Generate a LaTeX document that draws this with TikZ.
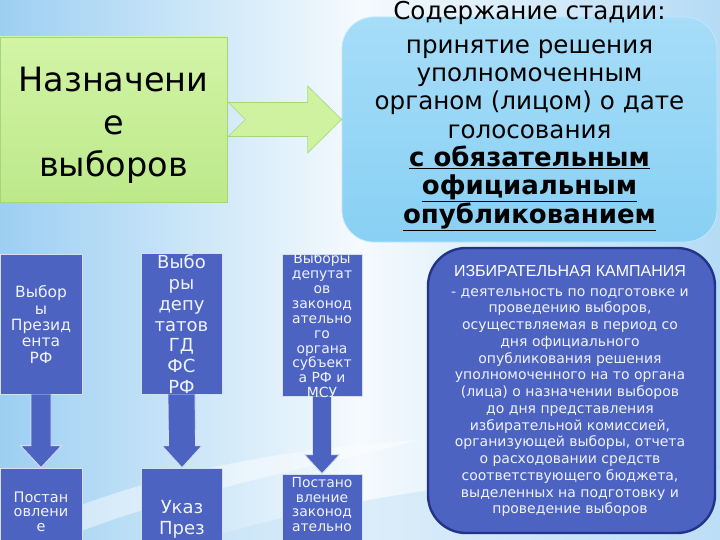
\documentclass[tikz,border=0pt]{standalone}
\usepackage{fontspec}
\setmainfont{DejaVu Sans}
\newfontfamily\capsfont{Liberation Sans}
\usetikzlibrary{calc,positioning}
\definecolor{bgblue}{HTML}{9CCFF2}
\definecolor{grtop}{HTML}{D2F4A6}
\definecolor{grbot}{HTML}{BDE98A}
\definecolor{grline}{HTML}{A6D67C}
\definecolor{skytop}{HTML}{A6DDF8}
\definecolor{skybot}{HTML}{88D0F4}
\definecolor{skyline}{HTML}{C2E7FA}
\definecolor{dkblue}{HTML}{4C63C2}
\definecolor{navy}{HTML}{24338A}
\definecolor{paleline}{HTML}{D5DEF3}
\definecolor{lighttxt}{HTML}{F0F3FB}

\begin{document}
\begin{tikzpicture}[x=1pt,y=-1pt,
		greenbox/.style={top color=grtop, bottom color=grbot, draw=grline, line width=0.6pt, align=center, inner sep=0pt},
		skybox/.style={top color=skytop, bottom color=skybot, draw=skyline, line width=0.8pt, rounded corners=32pt, inner sep=0pt},
		dbox/.style={fill=dkblue, draw=paleline, line width=0.8pt, minimum width=81pt, minimum height=140pt, inner sep=0pt},
		wtext/.style={text=lighttxt, align=center, inner sep=0pt, anchor=north},
		blockarr/.style={fill=dkblue, draw=paleline, line width=0.8pt},
		greenarr/.style={fill=grtop!80!grbot, draw=grline, line width=0.6pt},
	]
	\useasboundingbox (0,0) rectangle (720,540);
	\clip (0,0) rectangle (720,540);
	% background
	\shade[left color=bgblue, right color=bgblue!75!white, middle color=white!90!bgblue] (0,0) rectangle (720,540);
	\fill[white, opacity=0.45] (0,540) .. controls (120,480) and (260,450) .. (420,440) .. controls (300,470) and (150,500) .. (60,540) -- cycle;
	\fill[bgblue!60!white, opacity=0.5] (200,540) .. controls (400,480) and (600,470) .. (720,470) -- (720,540) -- cycle;
	
	% top row
	\node[greenbox, minimum width=227pt, minimum height=165pt] (naz) at (113.5,119.5) {};
	\node[anchor=north, align=center, inner sep=0pt, font=\fontsize{33.5}{42.5}\selectfont] (naztxt) at ($(naz.north)+(0,30.6)$) {Назначени\\е\\выборов};
	\node[skybox, minimum width=375pt, minimum height=225pt] (sod) at (529.5,129.5) {};
	\node[anchor=north, align=center, inner sep=0pt, font=\fontsize{24.6}{28.3}\selectfont] (sodtxt) at ($(sod.north)+(0,-15.5)$)
		{Содержание стадии:\\[5.5pt] принятие решения\\уполномоченным\\органом (лицом) о дате\\голосования\\
		\fontsize{26}{28.3}\selectfont\textbf{\underline{с обязательным}}\\\fontsize{26}{28.3}\selectfont\textbf{\underline{официальным}}\\
		\fontsize{26}{28.3}\selectfont\textbf{\underline{опубликованием}}};
	\draw[greenarr] ($(naz.east)+(1,-17)$) -- ($(sod.west |- naz.east)+(-34,-17)$) -- ++(0,-16.5)
		-- (sod.west |- naz.east) -- ++(-34,33.5) -- ++(0,-16.5) -- ($(naz.east)+(1,17)$)
		-- ($(naz.east)+(18,0)$) -- cycle;
	
	% kinds of elections
	\node[dbox, minimum width=82pt] (pres) at (41,324) {};
	\node[dbox, minimum height=141pt] (gd) at (181.5,323.5) {};
	\node[dbox, minimum width=80pt, minimum height=142pt] (sub) at (322,325) {};
	\node[dbox, minimum width=82pt] (prespost) at (41,538) {};
	\node[dbox] (gdukaz) at (182,538) {};
	\node[dbox, minimum width=80pt] (subpost) at (322,544) {};
	
	\foreach \a/\b/\w/\h/\l in {pres/prespost/10/20.5/22, gd/gdukaz/13.5/20/22, sub/subpost/9.5/17.5/19}
	{
		\draw[blockarr] ($(\a.south)+(-\w,0)$) -- ($(\b.north)+(-\w,-\l)$) -- ++({\w-\h},0) -- (\b.north)
			-- ($(\b.north)+(\h,-\l)$) -- ++({\w-\h},0) -- ($(\a.south)+(\w,0)$);
	}
	
	\node[wtext, font=\fontsize{15.5}{16.3}\selectfont] (prestxt) at ($(pres.north)+(0,32)$) {Выбор\\ы\\Презид\\ента\\РФ};
	\node[wtext, font=\fontsize{18}{20.8}\selectfont] (gdtxt) at ($(gd.north)+(0,2)$) {Выбо\\ры\\депу\\татов\\ГД\\ФС\\РФ};
	\node[wtext, font=\fontsize{13.9}{14.9}\selectfont] (subtxt) at ($(sub.north)+(0,-1)$)
		{Выборы\\депутат\\ов\\законод\\ательно\\го\\органа\\субъект\\а РФ и\\МСУ};
	\node[wtext, font=\fontsize{14.5}{14.5}\selectfont] (prespsttxt) at ($(prespost.north)+(0,24)$) {Постан\\овлени\\е};
	\node[wtext, font=\fontsize{18}{21}\selectfont] (ukaztxt) at ($(gdukaz.north)+(0,33)$) {Указ\\През};
	\node[wtext, font=\fontsize{13.9}{14.5}\selectfont] (subpsttxt) at ($(subpost.north)+(0,4)$) {Постано\\вление\\законод\\ательно};
	
	% campaign
	\node[fill=dkblue, draw=navy, line width=2.4pt, rounded corners=38pt, minimum width=287pt, minimum height=285pt] (kamp) at (571.5,390.5) {};
	\node[wtext, text=white, font=\capsfont\fontsize{16}{18}\selectfont] (kamptitle) at ($(kamp.north)+(-1.5,18)$) {ИЗБИРАТЕЛЬНАЯ КАМПАНИЯ};
	\node[wtext, font=\fontsize{14}{16.75}\selectfont] (kamptxt) at ($(kamp.north)+(-1.5,38.8)$)
		{\vphantom{И}- деятельность по подготовке и\\проведению выборов,\\осуществляемая в период со\\дня официального\\
		опубликования решения\\уполномоченного на то органа\\(лица) о назначении выборов\\до дня представления\\
		избирательной комиссией,\\организующей выборы, отчета\\о расходовании средств\\соответствующего бюджета,\\
		выделенных на подготовку и\\проведение выборов};
\end{tikzpicture}
\end{document}
